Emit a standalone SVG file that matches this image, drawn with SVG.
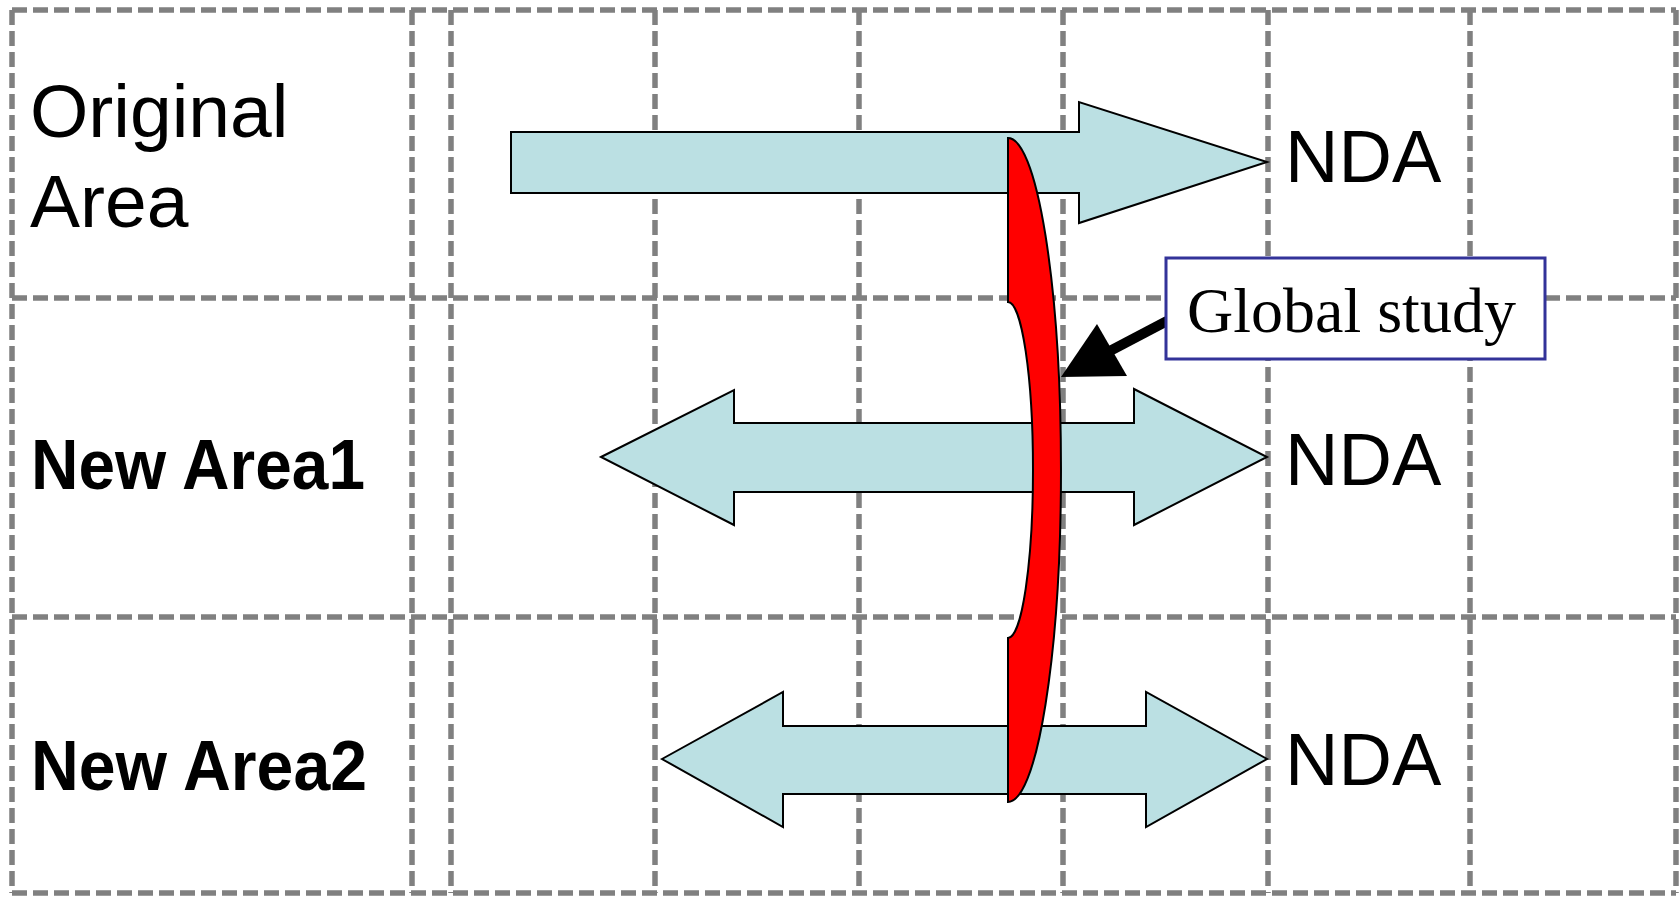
<svg xmlns="http://www.w3.org/2000/svg" width="1680" height="897" viewBox="0 0 1680 897">
  <style>
    .grid { stroke: #808080; stroke-width: 5.5; stroke-dasharray: 15 6; fill: none; }
    .band { fill: #BBE0E3; stroke: #000000; stroke-width: 2; stroke-linejoin: miter; }
    .lbl { font-family: "Liberation Sans", Arial, sans-serif; font-size: 75px; fill: #000000; }
    .lblb { font-family: "Liberation Sans", Arial, sans-serif; font-size: 70px; font-weight: bold; fill: #000000; }
    .nda { font-family: "Liberation Sans", Arial, sans-serif; font-size: 74px; fill: #000000; }
    .serif { font-family: "Liberation Serif", "Times New Roman", serif; font-size: 64px; fill: #000000; }
  </style>
  <rect x="0" y="0" width="1680" height="897" fill="#ffffff"/>

  <g id="grid">
    <line class="grid" x1="12" y1="10" x2="1676" y2="10"/>
    <line class="grid" x1="12" y1="298" x2="1676" y2="298"/>
    <line class="grid" x1="12" y1="617" x2="1676" y2="617"/>
    <line class="grid" x1="12" y1="893" x2="1676" y2="893"/>
    <line class="grid" x1="12" y1="10" x2="12" y2="893"/>
    <line class="grid" x1="412" y1="10" x2="412" y2="893"/>
    <line class="grid" x1="451" y1="10" x2="451" y2="893"/>
    <line class="grid" x1="655" y1="10" x2="655" y2="893"/>
    <line class="grid" x1="859" y1="10" x2="859" y2="893"/>
    <line class="grid" x1="1063" y1="10" x2="1063" y2="893"/>
    <line class="grid" x1="1268" y1="10" x2="1268" y2="893"/>
    <line class="grid" x1="1470" y1="10" x2="1470" y2="893"/>
    <line class="grid" x1="1676" y1="10" x2="1676" y2="893"/>
  </g>

  <g id="row-labels">
    <text class="lbl" x="30" y="137">Original</text>
    <text class="lbl" x="30" y="227">Area</text>
    <text class="lblb" x="31" y="489" textLength="334" lengthAdjust="spacingAndGlyphs">New Area1</text>
    <text class="lblb" x="31" y="790" textLength="336" lengthAdjust="spacingAndGlyphs">New Area2</text>
  </g>

  <g id="arrow-original">
    <path class="band" d="M511,132 H1079 V102 L1267,162 L1079,223 V193 H511 Z"/>
  </g>
  <g id="arrow-new1">
    <path class="band" d="M601,457 L734,390 V423 H1134 V389 L1267,457 L1134,525 V492 H734 V525 Z"/>
  </g>
  <g id="arrow-new2">
    <path class="band" d="M662,759 L783,692 V726 H1146 V692 L1267,759 L1146,827 V794 H783 V827 Z"/>
  </g>

  <g id="global-brace">
    <path d="M1008,138 A53,332 0 0 1 1008,802 L1008,638 A25,168 0 0 0 1008,302 Z" fill="#FF0000" stroke="#000000" stroke-width="2"/>
  </g>

  <g id="nda-labels">
    <text class="nda" x="1285" y="182">NDA</text>
    <text class="nda" x="1285" y="485">NDA</text>
    <text class="nda" x="1285" y="785">NDA</text>
  </g>

  <g id="connectors">
    <line x1="1167" y1="321" x2="1108" y2="352" stroke="#000000" stroke-width="10"/>
    <polygon points="1061,377 1097,324 1127,376" fill="#000000"/>
  </g>

  <g id="global-study">
    <rect x="1166" y="258" width="379" height="101" fill="#ffffff" stroke="#333399" stroke-width="3"/>
    <text class="serif" x="1187" y="332">Global study</text>
  </g>
</svg>
